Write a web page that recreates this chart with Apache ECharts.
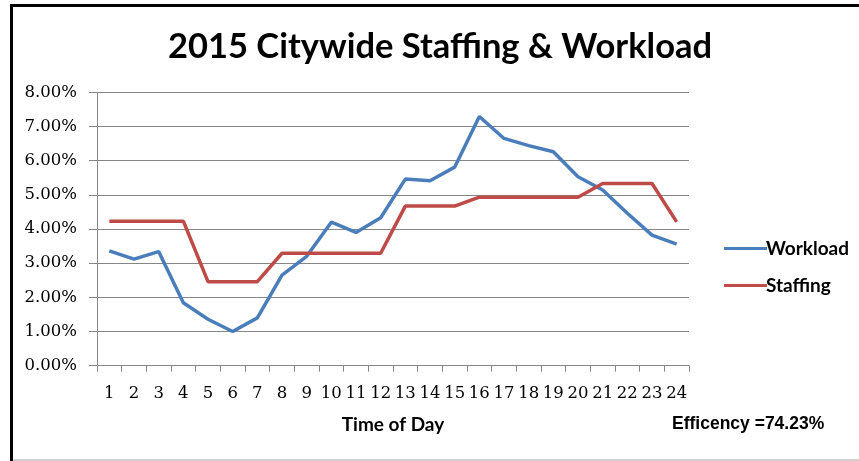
<!DOCTYPE html>
<html>
<head>
<meta charset="utf-8">
<script src="https://cdn.jsdelivr.net/npm/echarts@6/dist/echarts.min.js"></script>
<style>
html,body{margin:0;padding:0;background:#fff;}
#main{width:859px;height:461px;}
</style>
</head>
<body>
<div id="main"></div>
<script>
var hours = ['1','2','3','4','5','6','7','8','9','10','11','12','13','14','15','16','17','18','19','20','21','22','23','24'];
var workload = [3.36,3.12,3.34,1.84,1.36,1.00,1.40,2.65,3.20,4.20,3.90,4.33,5.46,5.41,5.81,7.29,6.65,6.44,6.26,5.53,5.14,4.46,3.82,3.56];
var staffing = [4.23,4.23,4.23,4.23,2.46,2.46,2.46,3.29,3.29,3.29,3.29,3.29,4.67,4.67,4.67,4.93,4.93,4.93,4.93,4.93,5.33,5.33,5.33,4.21];
var yTicks = {min:0, max:8, interval:1};
var titleText = '2015 Citywide Staffing & Workload';
var efficiencyText = 'Efficency =74.23%';

var chart = echarts.init(document.getElementById('main'), null, {renderer:'canvas'});
var serif = 'DejaVu Serif';
var sans = 'Lato';
chart.setOption({
  animation:false,
  backgroundColor:'#fff',
  title:{
    text:titleText, left:435, top:24, textAlign:'center',
    textStyle:{fontFamily:sans, fontWeight:'bold', fontSize:34.5, color:'#000'}
  },
  grid:{left:97, right:170, top:92.3, bottom:95.3, containLabel:false},
  legend:{
    orient:'vertical', left:719, top:234, itemGap:18,
    icon:'rect', itemWidth:43, itemHeight:3,
    textStyle:{fontFamily:sans, fontWeight:'bold', fontSize:19, color:'#000', padding:[0,0,0,-6]},
    data:['Workload','Staffing']
  },
  xAxis:{
    type:'category', data:hours, boundaryGap:true,
    axisLine:{lineStyle:{color:'#868686', width:1}},
    axisTick:{show:true, length:6, alignWithLabel:false, lineStyle:{color:'#868686'}},
    axisLabel:{fontFamily:serif, fontSize:16.5, color:'#000', margin:20, interval:0},
    name:'Time of Day', nameLocation:'middle', nameGap:50,
    nameTextStyle:{fontFamily:sans, fontWeight:'bold', fontSize:19, color:'#000'}
  },
  yAxis:{
    type:'value', min:yTicks.min, max:yTicks.max, interval:yTicks.interval,
    axisLine:{show:true, lineStyle:{color:'#868686', width:1}},
    axisTick:{show:true, inside:false, length:8, lineStyle:{color:'#868686'}},
    splitLine:{show:true, lineStyle:{color:'#868686', width:1}},
    axisLabel:{fontFamily:serif, fontSize:16.5, color:'#000', margin:20,
      formatter:function(v){return v.toFixed(2)+'%';}}
  },
  series:[
    {name:'Workload', type:'line', data:workload, showSymbol:false, symbol:'none',
     lineStyle:{color:'#4A7EBB', width:3.5}, itemStyle:{color:'#4A7EBB'}},
    {name:'Staffing', type:'line', data:staffing, showSymbol:false, symbol:'none',
     lineStyle:{color:'#BE4B48', width:3.5}, itemStyle:{color:'#BE4B48'}}
  ],
  graphic:[
    {type:'rect', shape:{x:10, y:4, width:849, height:3}, style:{fill:'#000'}},
    {type:'rect', shape:{x:10, y:4, width:3, height:457}, style:{fill:'#000'}},
    {type:'rect', shape:{x:13, y:459, width:846, height:2}, style:{fill:'#d0d0d0'}},
    {type:'text', left:672, top:415, style:{text:efficiencyText, fontFamily:'Liberation Sans', fontWeight:'bold', fontSize:17.5, fill:'#000'}}
  ]
});
</script>
</body>
</html>
